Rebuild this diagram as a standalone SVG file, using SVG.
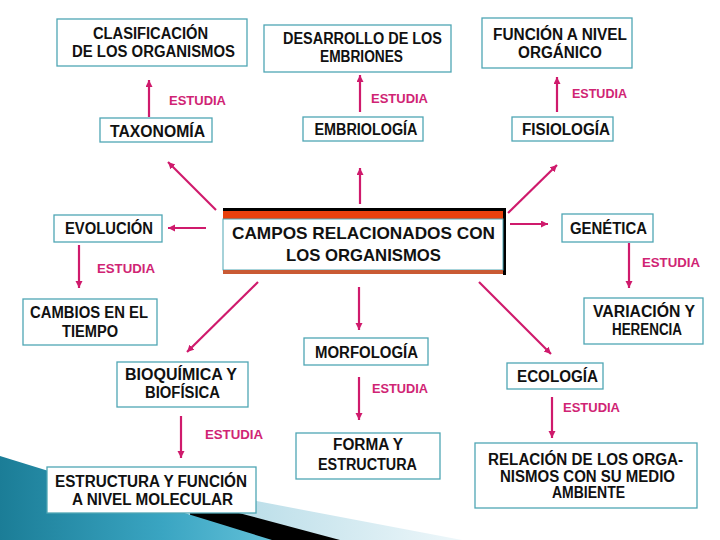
<svg xmlns="http://www.w3.org/2000/svg" width="720" height="540" viewBox="0 0 720 540">
<defs>
<style>
.box{fill:#fff;stroke:#4fa6b4;stroke-width:1.3}
.t{font-family:"Liberation Sans",Arial,sans-serif;font-weight:bold;font-size:16px;fill:#111;text-anchor:middle}
.tc{font-size:17px}
.e{font-family:"Liberation Sans",Arial,sans-serif;font-weight:bold;font-size:12.5px;fill:#d02474}
.c line{stroke:#cf1a6c;stroke-width:2.2;marker-end:url(#ah)}
</style>
<marker id="ah" markerUnits="userSpaceOnUse" markerWidth="10" markerHeight="10" refX="7" refY="3.5" orient="auto">
<path d="M0,0 L7,3.5 L0,7 z" fill="#cf1a6c"/>
</marker>
<linearGradient id="tealg" x1="0" y1="0" x2="1" y2="0">
<stop offset="0" stop-color="#1b7d97"/>
<stop offset="0.6" stop-color="#3aa5c2"/>
<stop offset="1" stop-color="#62c0d8"/>
</linearGradient>
<linearGradient id="lbg" x1="0" y1="0" x2="1" y2="0">
<stop offset="0" stop-color="#b9dde8"/>
<stop offset="1" stop-color="#eef7fa"/>
</linearGradient>
</defs>
<rect width="720" height="540" fill="#fff"/>
<g id="decor">
<polygon points="235,497 462,540 235,540" fill="url(#lbg)"/>
<polygon points="190,500 340,540 190,540" fill="#000"/>
<polygon points="0,456 272,540 0,540" fill="url(#tealg)"/>
</g>
<g id="connectors" class="c">
<line x1="149" y1="117" x2="149" y2="80"/>
<line x1="360" y1="112" x2="360" y2="75"/>
<line x1="557" y1="112" x2="557" y2="77"/>
<line x1="216" y1="210" x2="168" y2="162"/>
<line x1="360" y1="204" x2="360" y2="168"/>
<line x1="508" y1="213" x2="557" y2="165"/>
<line x1="206" y1="228" x2="168" y2="228"/>
<line x1="510" y1="224" x2="548" y2="224"/>
<line x1="258" y1="282" x2="187" y2="352"/>
<line x1="359" y1="287" x2="359" y2="330"/>
<line x1="479" y1="282" x2="551" y2="354"/>
<line x1="79" y1="245" x2="79" y2="288"/>
<line x1="629" y1="243" x2="629" y2="288"/>
<line x1="181" y1="416" x2="181" y2="458"/>
<line x1="359" y1="377" x2="359" y2="420"/>
<line x1="552" y1="397" x2="552" y2="438"/>
</g>
<g id="labels">
<text class="e" x="169" y="105" textLength="57" lengthAdjust="spacingAndGlyphs">ESTUDIA</text>
<text class="e" x="371" y="103" textLength="57" lengthAdjust="spacingAndGlyphs">ESTUDIA</text>
<text class="e" x="572" y="98" textLength="55" lengthAdjust="spacingAndGlyphs">ESTUDIA</text>
<text class="e" x="97" y="273" textLength="58" lengthAdjust="spacingAndGlyphs">ESTUDIA</text>
<text class="e" x="642" y="267" textLength="58" lengthAdjust="spacingAndGlyphs">ESTUDIA</text>
<text class="e" x="205" y="439" textLength="58" lengthAdjust="spacingAndGlyphs">ESTUDIA</text>
<text class="e" x="372" y="393" textLength="56" lengthAdjust="spacingAndGlyphs">ESTUDIA</text>
<text class="e" x="563" y="412" textLength="57" lengthAdjust="spacingAndGlyphs">ESTUDIA</text>
</g>
<g id="clasificacion">
<rect class="box" x="57" y="19" width="190" height="47"/>
<text class="t" x="150.5" y="39" textLength="115" lengthAdjust="spacingAndGlyphs">CLASIFICACIÓN</text>
<text class="t" x="153.5" y="57" textLength="163" lengthAdjust="spacingAndGlyphs">DE LOS ORGANISMOS</text>
</g>
<g id="desarrollo">
<rect class="box" x="264" y="25" width="187" height="47"/>
<text class="t" x="362.5" y="44" textLength="159" lengthAdjust="spacingAndGlyphs">DESARROLLO DE LOS</text>
<text class="t" x="361.5" y="62" textLength="83" lengthAdjust="spacingAndGlyphs">EMBRIONES</text>
</g>
<g id="funcion">
<rect class="box" x="482" y="18" width="150" height="50"/>
<text class="t" x="560" y="40" textLength="134" lengthAdjust="spacingAndGlyphs">FUNCIÓN A NIVEL</text>
<text class="t" x="560" y="58" textLength="84" lengthAdjust="spacingAndGlyphs">ORGÁNICO</text>
</g>
<g id="taxonomia">
<rect class="box" x="100" y="118" width="112" height="24"/>
<text class="t" x="157.5" y="137" textLength="95" lengthAdjust="spacingAndGlyphs">TAXONOMÍA</text>
</g>
<g id="embriologia">
<rect class="box" x="303" y="117" width="120" height="24"/>
<text class="t" x="366" y="135" textLength="103" lengthAdjust="spacingAndGlyphs">EMBRIOLOGÍA</text>
</g>
<g id="fisiologia">
<rect class="box" x="512" y="117" width="101" height="24"/>
<text class="t" x="566" y="135" textLength="88" lengthAdjust="spacingAndGlyphs">FISIOLOGÍA</text>
</g>
<g id="campos">
<rect x="223" y="208" width="283" height="3" fill="#000"/>
<rect x="503" y="208" width="3" height="67" fill="#000"/>
<rect x="223" y="211" width="280" height="8" fill="#e8400c"/>
<rect x="223" y="219" width="280" height="51" fill="#fff" stroke="#4fa6b4" stroke-width="1"/>
<rect x="223" y="270" width="280" height="4" fill="#c95a34"/>
<text class="t tc" x="363.5" y="239" textLength="263" lengthAdjust="spacingAndGlyphs">CAMPOS RELACIONADOS CON</text>
<text class="t tc" x="363.5" y="261" textLength="155" lengthAdjust="spacingAndGlyphs">LOS ORGANISMOS</text>
</g>
<g id="evolucion">
<rect class="box" x="54" y="215" width="108" height="27"/>
<text class="t" x="109" y="234" textLength="88" lengthAdjust="spacingAndGlyphs">EVOLUCIÓN</text>
</g>
<g id="cambios">
<rect class="box" x="23" y="299" width="134" height="46"/>
<text class="t" x="89" y="318" textLength="118" lengthAdjust="spacingAndGlyphs">CAMBIOS EN EL</text>
<text class="t" x="90" y="337" textLength="56" lengthAdjust="spacingAndGlyphs">TIEMPO</text>
</g>
<g id="genetica">
<rect class="box" x="562" y="214" width="91" height="28"/>
<text class="t" x="608.5" y="234" textLength="77" lengthAdjust="spacingAndGlyphs">GENÉTICA</text>
</g>
<g id="variacion">
<rect class="box" x="584" y="298" width="119" height="46"/>
<text class="t" x="644" y="317" textLength="102" lengthAdjust="spacingAndGlyphs">VARIACIÓN Y</text>
<text class="t" x="647" y="335" textLength="70" lengthAdjust="spacingAndGlyphs">HERENCIA</text>
</g>
<g id="bioquimica">
<rect class="box" x="117" y="362" width="131" height="45"/>
<text class="t" x="181" y="380" textLength="112" lengthAdjust="spacingAndGlyphs">BIOQUÍMICA Y</text>
<text class="t" x="182.5" y="398" textLength="75" lengthAdjust="spacingAndGlyphs">BIOFÍSICA</text>
</g>
<g id="morfologia">
<rect class="box" x="304" y="338" width="124" height="27"/>
<text class="t" x="366.5" y="358" textLength="103" lengthAdjust="spacingAndGlyphs">MORFOLOGÍA</text>
</g>
<g id="ecologia">
<rect class="box" x="507" y="363" width="96" height="26"/>
<text class="t" x="557.5" y="382" textLength="81" lengthAdjust="spacingAndGlyphs">ECOLOGÍA</text>
</g>
<g id="estructura">
<rect class="box" x="47" y="467" width="209" height="46"/>
<text class="t" x="151" y="487" textLength="192" lengthAdjust="spacingAndGlyphs">ESTRUCTURA Y FUNCIÓN</text>
<text class="t" x="152.5" y="505" textLength="161" lengthAdjust="spacingAndGlyphs">A NIVEL MOLECULAR</text>
</g>
<g id="forma">
<rect class="box" x="296" y="433" width="144" height="46"/>
<text class="t" x="368" y="450" textLength="70" lengthAdjust="spacingAndGlyphs">FORMA Y</text>
<text class="t" x="367.5" y="470" textLength="99" lengthAdjust="spacingAndGlyphs">ESTRUCTURA</text>
</g>
<g id="relacion">
<rect class="box" x="475" y="443" width="222" height="65"/>
<text class="t" x="585.5" y="465" textLength="195" lengthAdjust="spacingAndGlyphs">RELACIÓN DE LOS ORGA-</text>
<text class="t" x="587.5" y="482" textLength="175" lengthAdjust="spacingAndGlyphs">NISMOS CON SU MEDIO</text>
<text class="t" x="588.5" y="498" textLength="73" lengthAdjust="spacingAndGlyphs">AMBIENTE</text>
</g>
</svg>
